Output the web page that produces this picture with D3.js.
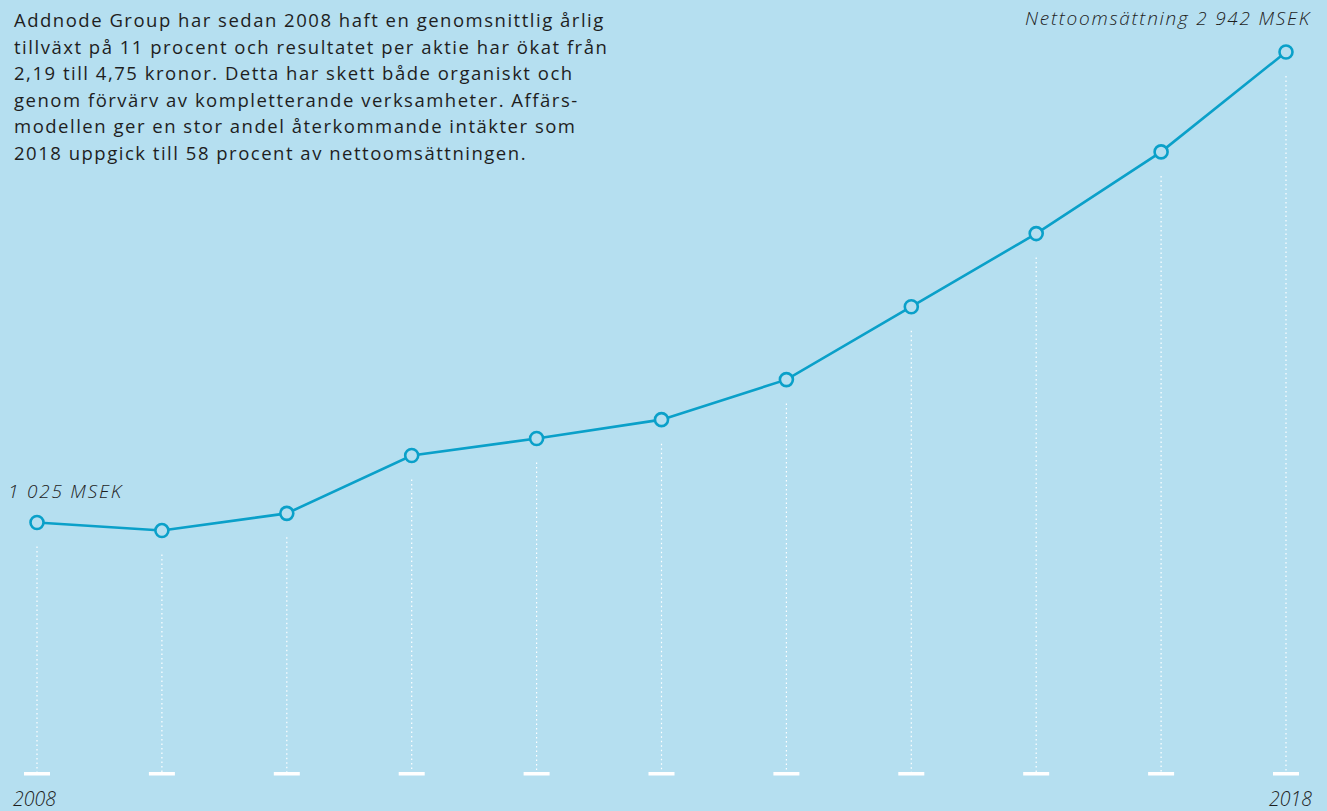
<!DOCTYPE html>
<html>
<head>
<meta charset="utf-8">
<script src="https://cdn.jsdelivr.net/npm/d3@7"></script>
<style>
  html, body { margin: 0; padding: 0; background: #b5dff0; }
  svg { display: block; font-family: "Open Sans", "Noto Sans", sans-serif; }
</style>
</head>
<body>
<script>
var years = [2008, 2009, 2010, 2011, 2012, 2013, 2014, 2015, 2016, 2017, 2018]
var sales = [1025, 992, 1062, 1298, 1367, 1444, 1607, 1904, 2202, 2535, 2942]
var introLines = [
  'Addnode Group har sedan 2008 haft en genomsnittlig årlig',
  'tillväxt på 11 procent och resultatet per aktie har ökat från',
  '2,19 till 4,75 kronor. Detta har skett både organiskt och',
  'genom förvärv av kompletterande verksamheter. Affärs-',
  'modellen ger en stor andel återkommande intäkter som',
  '2018 uppgick till 58 procent av nettoomsättningen.'
]
var firstLabel = '1 025 MSEK'
var lastLabel = 'Nettoomsättning 2 942 MSEK'

var width = 1327
var height = 811
var blue = '#0aa0c9'
var ink = '#1e1e1e'

var data = years.map(function (y, i) { return { year: y, value: sales[i] } })

var x = d3.scaleLinear()
  .domain([2008, 2018])
  .range([37, 1286])

var y = d3.scaleLinear()
  .domain([0, 2942])
  .range([774, 52])

var svg = d3.select('body').append('svg')
  .attr('width', width)
  .attr('height', height)

svg.append('rect')
  .attr('width', width)
  .attr('height', height)
  .attr('fill', '#b5dff0')

// dotted drop lines
svg.selectAll('.drop')
  .data(data)
  .enter().append('line')
  .attr('class', 'drop')
  .attr('x1', function (d) { return x(d.year) })
  .attr('x2', function (d) { return x(d.year) })
  .attr('y1', function (d) { return y(d.value) + 24 })
  .attr('y2', y(0))
  .attr('stroke', '#ffffff')
  .attr('stroke-width', 1.2)
  .attr('stroke-dasharray', '1.5,3')

// baseline ticks
svg.selectAll('.tick')
  .data(data)
  .enter().append('rect')
  .attr('class', 'tick')
  .attr('x', function (d) { return x(d.year) - 13 })
  .attr('y', y(0) - 2)
  .attr('width', 26)
  .attr('height', 3.5)
  .attr('fill', '#ffffff')

var line = d3.line()
  .x(function (d) { return x(d.year) })
  .y(function (d) { return y(d.value) })

svg.append('path')
  .datum(data)
  .attr('d', line)
  .attr('fill', 'none')
  .attr('stroke', blue)
  .attr('stroke-width', 2.6)

svg.selectAll('.dot')
  .data(data)
  .enter().append('circle')
  .attr('class', 'dot')
  .attr('cx', function (d) { return x(d.year) })
  .attr('cy', function (d) { return y(d.value) })
  .attr('r', 6.5)
  .attr('fill', '#b5dff0')
  .attr('stroke', blue)
  .attr('stroke-width', 2.6)

// nudge letter-spacing so a text matches the width seen in the reference
function fitWidth (sel, target) {
  var node = sel.node()
  var chars = node.textContent.length
  var w = node.getComputedTextLength()
  sel.attr('letter-spacing', ((target - w) / chars).toFixed(2))
}

// intro text
var intro = svg.append('text')
  .attr('x', 14)
  .attr('y', 27)
  .attr('font-size', 18.5)
  .attr('fill', ink)

intro.selectAll('tspan')
  .data(introLines)
  .enter().append('tspan')
  .attr('x', 14)
  .attr('dy', function (d, i) { return i === 0 ? 0 : 26.6 })
  .text(function (d) { return d })

var ls = (591 - intro.select('tspan').node().getComputedTextLength()) / introLines[0].length
intro.attr('letter-spacing', ls.toFixed(2))

var lab1 = svg.append('text')
  .attr('x', 8)
  .attr('y', y(sales[0]) - 24)
  .attr('font-size', 19)
  .attr('font-style', 'italic')
  .attr('font-weight', 300)
  .attr('fill', ink)
  .text(firstLabel)
fitWidth(lab1, 115)

var lab2 = svg.append('text')
  .attr('x', 1311)
  .attr('y', 25)
  .attr('text-anchor', 'end')
  .attr('font-size', 19)
  .attr('font-style', 'italic')
  .attr('font-weight', 300)
  .attr('fill', ink)
  .text(lastLabel)
fitWidth(lab2, 286)

svg.append('text')
  .attr('x', 13)
  .attr('y', 806)
  .attr('font-size', 19.5)
  .attr('font-style', 'italic')
  .attr('font-weight', 300)
  .attr('fill', ink)
  .text(years[0])

svg.append('text')
  .attr('x', 1312)
  .attr('y', 806)
  .attr('text-anchor', 'end')
  .attr('font-size', 19.5)
  .attr('font-style', 'italic')
  .attr('font-weight', 300)
  .attr('fill', ink)
  .text(years[years.length - 1])
</script>
</body>
</html>
